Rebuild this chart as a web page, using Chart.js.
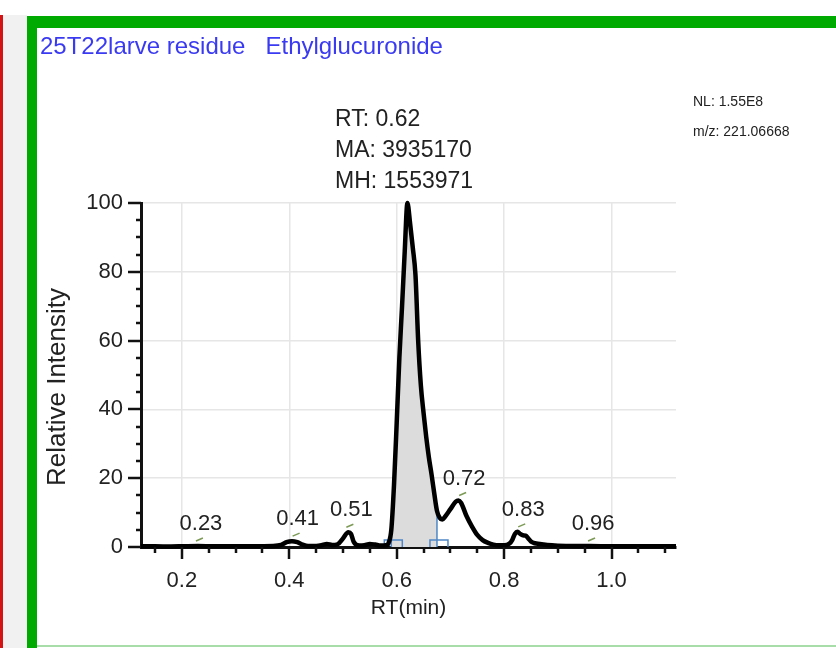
<!DOCTYPE html>
<html><head><meta charset="utf-8">
<script src="https://cdn.jsdelivr.net/npm/chart.js@4.4.0/dist/chart.umd.min.js"></script>
<style>html,body{margin:0;padding:0;background:#fff;}canvas{display:block;}</style>
</head><body>
<canvas id="c" width="836" height="648"></canvas>
<script>
// ---------- data ----------
const titleText = '25T22larve residue   Ethylglucuronide';
const infoLines = ['NL: 1.55E8', 'm/z: 221.06668'];
const peakInfo = ['RT: 0.62', 'MA: 3935170', 'MH: 1553971'];
const yAxisTitle = 'Relative Intensity';
const xAxisTitle = 'RT(min)';

const rtValues = [0.124,0.15,0.18,0.20,0.23,0.26,0.30,0.34,0.37,0.385,0.395,0.405,0.415,0.425,0.435,0.45,0.46,0.47,0.48,0.49,
  0.50,0.51,0.515,0.52,0.53,0.54,0.55,0.56,0.57,0.58,0.585,0.59,0.595,0.60,0.605,0.61,0.615,0.62,0.625,0.63,
  0.635,0.64,0.645,0.65,0.655,0.66,0.665,0.67,0.675,0.68,0.685,0.69,0.70,0.71,0.715,0.72,0.73,0.74,0.75,0.76,
  0.77,0.78,0.79,0.80,0.81,0.815,0.82,0.825,0.83,0.835,0.84,0.845,0.85,0.855,0.86,0.87,0.88,0.90,0.93,0.96,
  1.00,1.05,1.10,1.12];
const intensity = [0.2,0.2,0.15,0.2,0.3,0.2,0.2,0.25,0.3,0.6,1.4,1.7,1.4,0.7,0.3,0.3,0.5,0.9,0.6,0.8,
  2.5,4.3,3.8,1.5,0.4,0.5,0.9,0.7,0.4,0.5,1.2,5,18,36,55,70,86,100,94,87,
  79,60,47,39,32,26,21,15.5,10.5,8.5,8,8.8,11,13.2,13.5,12.8,9,6,3.5,2,
  1.2,0.7,0.5,0.5,1,2,3.8,4.4,3.8,3.4,3.3,2.5,1.6,1.2,1.0,0.8,0.6,0.4,0.3,0.3,
  0.2,0.2,0.25,0.2];

const shadeStart = 0.59;
const shadeEnd = 0.675;

const peakRT = [0.23, 0.41, 0.51, 0.72, 0.83, 0.96];
const peakHeight = [0.3, 1.7, 4.3, 13.5, 4.4, 0.3];
const peakLabels = ['0.23', '0.41', '0.51', '0.72', '0.83', '0.96'];

const yTickValues = [0,5,10,15,20,25,30,35,40,45,50,55,60,65,70,75,80,85,90,95,100];
const yLabelValues = [0,20,40,60,80,100];
const xTickValues = [0.15,0.20,0.25,0.30,0.35,0.40,0.45,0.50,0.55,0.60,0.65,0.70,0.75,0.80,0.85,0.90,0.95,1.00,1.05,1.10];
const xLabelValues = [0.2,0.4,0.6,0.8,1.0];

// ---------- helpers ----------
const FONT = "'Liberation Sans', Arial, sans-serif";
const isIn = (v, arr) => arr.some(a => Math.abs(a - v) < 1e-6);

const mainPoints = rtValues.map((x, i) => ({x, y: intensity[i]}));
const shadePoints = mainPoints.filter(p => p.x >= shadeStart - 1e-9 && p.x <= shadeEnd + 1e-9);

const decorPlugin = {
  id: 'decor',
  beforeDraw(chart) {
    const ctx = chart.ctx;
    ctx.save();
    ctx.fillStyle = '#ffffff';
    ctx.fillRect(0, 0, 836, 648);
    ctx.fillStyle = '#f1f1f1';
    ctx.fillRect(3, 15, 24, 633);
    ctx.fillStyle = '#d41414';
    ctx.fillRect(0, 15, 3, 633);
    ctx.fillStyle = '#00aa00';
    ctx.fillRect(27, 16, 809, 12);
    ctx.fillRect(27, 16, 10, 632);
    ctx.fillStyle = '#a8dca8';
    ctx.fillRect(37, 645, 799, 2);
    ctx.restore();
  },
  beforeDatasetDraw(chart, args) {
    if (args.index !== 0) return;
    const ctx = chart.ctx, xs = chart.scales.x, ys = chart.scales.y;
    const y0 = ys.getPixelForValue(0);
    ctx.save();
    ctx.strokeStyle = '#4f86c6';
    ctx.lineWidth = 1.5;
    [shadeStart, shadeEnd].forEach((v, k) => {
      const px = xs.getPixelForValue(v);
      ctx.beginPath();
      ctx.moveTo(px, y0);
      ctx.lineTo(px, y0 - (k === 0 ? 25 : 32));
      ctx.moveTo(px - 7, y0);
      ctx.lineTo(px - 7, y0 - 7);
      ctx.lineTo(px + 11, y0 - 7);
      ctx.lineTo(px + 11, y0);
      ctx.stroke();
    });
    ctx.restore();
  },
  afterDraw(chart) {
    const ctx = chart.ctx, xs = chart.scales.x, ys = chart.scales.y;
    const area = chart.chartArea;
    ctx.save();
    // tick marks
    ctx.strokeStyle = '#111';
    ctx.lineWidth = 2.5;
    yTickValues.forEach(v => {
      const py = Math.round(ys.getPixelForValue(v));
      const major = isIn(v, yLabelValues);
      ctx.beginPath();
      ctx.moveTo(area.left, py);
      ctx.lineTo(area.left - (major ? 13 : 5), py);
      ctx.stroke();
    });
    xTickValues.forEach(v => {
      const px = Math.round(xs.getPixelForValue(v));
      const major = isIn(v, xLabelValues);
      ctx.beginPath();
      ctx.moveTo(px, area.bottom);
      ctx.lineTo(px, area.bottom + (major ? 12 : 6));
      ctx.stroke();
    });
    // y axis title
    ctx.save();
    ctx.translate(58, 387);
    ctx.rotate(-Math.PI / 2);
    ctx.textAlign = 'center';
    ctx.textBaseline = 'middle';
    ctx.fillStyle = '#222';
    ctx.font = '26px ' + FONT;
    ctx.fillText(yAxisTitle, 0, 0);
    ctx.restore();
    // title
    ctx.textBaseline = 'middle';
    ctx.textAlign = 'left';
    ctx.fillStyle = '#3a3af2';
    ctx.font = '24px ' + FONT;
    ctx.fillText(titleText, 40, 47);
    // NL / m/z
    ctx.fillStyle = '#222';
    ctx.font = '14px ' + FONT;
    ctx.fillText(infoLines[0], 693, 102);
    ctx.fillText(infoLines[1], 693, 132);
    // peak info block
    ctx.font = '23px ' + FONT;
    peakInfo.forEach((t, i) => ctx.fillText(t, 335, 120 + i * 31));
    // peak labels
    ctx.textAlign = 'center';
    ctx.font = '22px ' + FONT;
    peakRT.forEach((rt, i) => {
      const px = xs.getPixelForValue(rt);
      const py = ys.getPixelForValue(peakHeight[i]);
      ctx.fillStyle = '#222';
      ctx.fillText(peakLabels[i], px + 3, py - 22);
      ctx.strokeStyle = '#7c9a55';
      ctx.lineWidth = 1.5;
      ctx.beginPath();
      ctx.moveTo(px - 2, py - 5);
      ctx.lineTo(px + 5, py - 8);
      ctx.stroke();
    });
    ctx.restore();
  }
};

new Chart(document.getElementById('c'), {
  type: 'line',
  data: {
    datasets: [
      {
        data: mainPoints,
        borderColor: '#000',
        borderWidth: 4.5,
        pointRadius: 0,
        fill: false,
        cubicInterpolationMode: 'monotone',
        clip: 8
      },
      {
        data: shadePoints,
        borderWidth: 0,
        borderColor: 'rgba(0,0,0,0)',
        backgroundColor: '#dcdcdc',
        pointRadius: 0,
        fill: 'origin',
        cubicInterpolationMode: 'monotone'
      }
    ]
  },
  options: {
    responsive: false,
    animation: false,
    devicePixelRatio: 1,
    layout: { padding: { left: 37, top: 203, right: 160, bottom: 0 } },
    plugins: { legend: { display: false }, tooltip: { enabled: false }, title: { display: false } },
    scales: {
      x: {
        type: 'linear',
        min: 0.124,
        max: 1.12,
        afterBuildTicks: s => { s.ticks = xTickValues.map(v => ({value: v})); },
        afterFit: s => { s.height = 101; },
        ticks: {
          autoSkip: false,
          maxRotation: 0,
          padding: 21,
          color: '#222',
          font: { size: 22, family: FONT },
          callback: v => isIn(v, xLabelValues) ? v.toFixed(1) : ''
        },
        grid: {
          drawTicks: false,
          lineWidth: 1.5,
          color: c => (c.tick && isIn(c.tick.value, xLabelValues)) ? '#e6e6e6' : 'rgba(0,0,0,0)'
        },
        border: { display: true, color: '#111', width: 3 },
        title: {
          display: true,
          text: xAxisTitle,
          color: '#222',
          font: { size: 21, family: FONT },
          padding: { top: 28, bottom: 27 }
        }
      },
      y: {
        type: 'linear',
        min: 0,
        max: 100,
        afterBuildTicks: s => { s.ticks = yTickValues.map(v => ({value: v})); },
        afterFit: s => { s.width = 104; },
        ticks: {
          autoSkip: false,
          padding: 18,
          color: '#222',
          font: { size: 22, family: FONT },
          callback: v => isIn(v, yLabelValues) ? String(v) : ''
        },
        grid: {
          drawTicks: false,
          lineWidth: 1.5,
          color: c => (c.tick && isIn(c.tick.value, yLabelValues) && c.tick.value > 0) ? '#e6e6e6' : 'rgba(0,0,0,0)'
        },
        border: { display: true, color: '#111', width: 3 },
        title: { display: false }
      }
    }
  },
  plugins: [decorPlugin]
});
</script>
</body></html>
